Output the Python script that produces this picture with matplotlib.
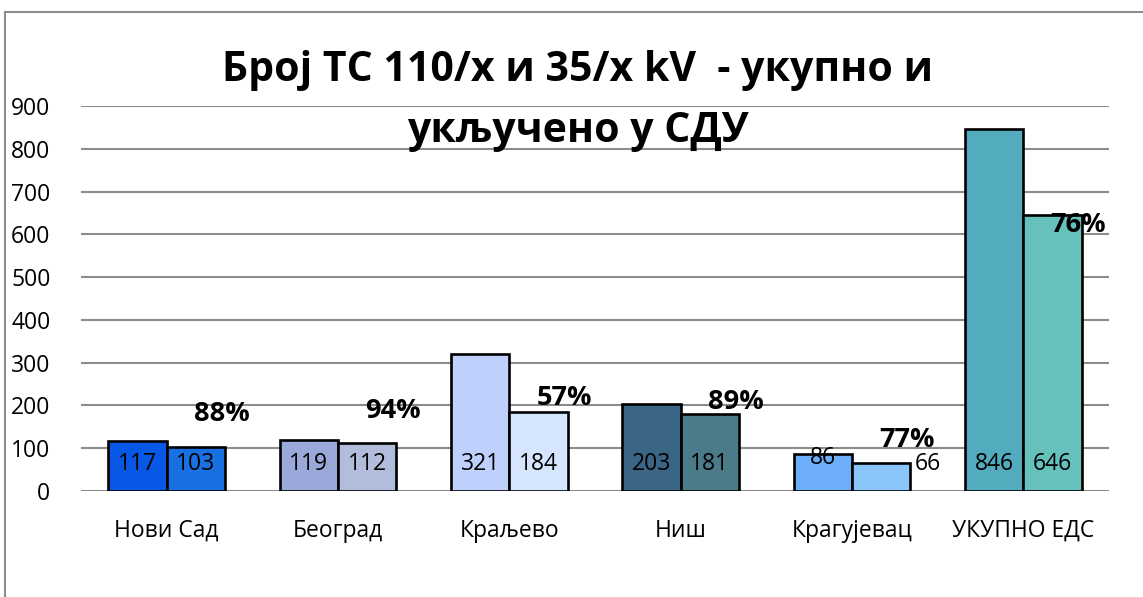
import matplotlib
matplotlib.use("Agg")
import matplotlib.pyplot as plt
import numpy as np
from matplotlib.patches import Rectangle

plt.rcParams['font.family'] = ['Open Sans', 'Noto Sans', 'DejaVu Sans']

categories = ["Нови Сад", "Београд", "Краљево", "Ниш", "Крагујевац", "УКУПНО ЕДС"]
total = [117, 119, 321, 203, 86, 846]
included = [103, 112, 184, 181, 66, 646]
colors_total = ["#0858e6", "#9aa9d9", "#bfd0fd", "#3b6585", "#6caefa", "#53abbe"]
colors_incl = ["#1870e2", "#b1bdda", "#d5e5fd", "#4b7b88", "#89c5fb", "#66c0bc"]
yticks = [0, 100, 200, 300, 400, 500, 600, 700, 800, 900]
title = "Број ТС 110/х и 35/х kV  - укупно и\nукључено у СДУ"

# layout offsets for percentage labels (data units above included bar)
pct_dy = [78, 75, 33, 27, 53, -24]

fig = plt.figure(figsize=(11.43, 5.97), dpi=100)
fig.patches.append(Rectangle((5 / 1143, -0.1), 1.2, (597 - 12) / 597 + 0.1,
                             transform=fig.transFigure, fill=False,
                             edgecolor="#8c8c8c", lw=1.5))
ax = fig.add_axes([81 / 1143, (597 - 491) / 597, 1028 / 1143, 385 / 597])
x = np.arange(len(categories))
w = 0.34
ax.bar(x - w / 2, total, w, color=colors_total, edgecolor="black", lw=1.9, zorder=3)
ax.bar(x + w / 2, included, w, color=colors_incl, edgecolor="black", lw=1.9, zorder=3)

ax.set_ylim(0, 900)
ax.set_xlim(-0.5, len(categories) - 0.5)
ax.set_yticks(yticks)
ax.yaxis.grid(True, color="#8c8c8c", lw=1.5, zorder=0)
ax.set_axisbelow(True)
for s in ax.spines.values():
    s.set_visible(False)
ax.tick_params(axis="y", length=0, pad=22, labelsize=16.5)
ax.tick_params(axis="x", length=0, pad=20, labelsize=16.5)
ax.set_xticks(x)
ax.set_xticklabels(categories)

for i in range(len(categories)):
    if categories[i] == "Крагујевац":
        ax.text(x[i] - w / 2, total[i] - 8, str(total[i]), ha="center", va="center", fontsize=16.5, zorder=4)
        ax.text(x[i] + w + 0.1, included[i] - 4, str(included[i]), ha="center", va="center", fontsize=16.5, zorder=4)
    else:
        ax.text(x[i] - w / 2, 63, str(total[i]), ha="center", va="center", fontsize=16.5, zorder=4)
        ax.text(x[i] + w / 2, 63, str(included[i]), ha="center", va="center", fontsize=16.5, zorder=4)
    pct = round(included[i] / total[i] * 100)
    ax.text(x[i] + w - 0.02, included[i] + pct_dy[i], f"{pct}%", ha="center", va="center",
            fontsize=19.5, fontweight="bold", zorder=5)

fig.text(578 / 1143, 1 - 101 / 597, title, ha="center", va="center", fontsize=29.5,
         fontweight="bold", linespacing=1.65)

fig.savefig("out.png", dpi=100)
